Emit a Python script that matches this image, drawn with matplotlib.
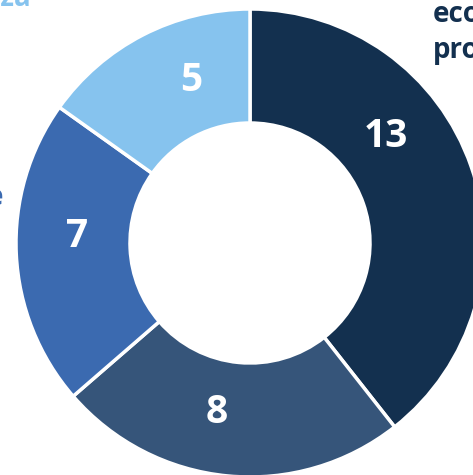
import numpy as np
import matplotlib
matplotlib.use("Agg")
import matplotlib.pyplot as plt

plt.rcParams['font.family'] = ['Open Sans', 'DejaVu Sans']

# data
values = [13, 8, 7, 5]
colors = ['#13304F', '#36557A', '#3B6AB0', '#86C3EE']
value_labels = [str(v) for v in values]
# where each number sits (degrees), moved off the middle as in the original
label_angles = [38, -101, 178, 110]

W, H = 473, 475
fig = plt.figure(figsize=(W / 100, H / 100), dpi=100)
ax = fig.add_axes([0, 0, 1, 1])

cx, cy = 250, H - 243
R, r_in = 234, 120

ax.pie(values, colors=colors, startangle=90, counterclock=False,
       center=(cx, cy), radius=R, frame=True,
       wedgeprops=dict(width=R - r_in, edgecolor='white', linewidth=2.5))
ax.set_xlim(0, W)
ax.set_ylim(0, H)
ax.set_aspect('equal')
ax.axis('off')

for lab, ang in zip(value_labels, label_angles):
    a = np.deg2rad(ang)
    ax.text(cx + 173 * np.cos(a), cy + 173 * np.sin(a), lab,
            ha='center', va='center', color='white',
            fontsize=28, fontweight='bold')

# category labels, mostly outside the visible area
ax.text(433, H - 22, 'economía', ha='left', va='baseline',
        color='#13304F', fontsize=20, fontweight='bold')
ax.text(433, H - 58, 'productiva', ha='left', va='baseline',
        color='#13304F', fontsize=20, fontweight='bold')
ax.text(31, H - 6, 'Pobreza', ha='right', va='baseline',
        color='#86C3EE', fontsize=20, fontweight='bold')
ax.text(3, H - 205, 'Medio ambiente', ha='right', va='baseline',
        color='#3B6AB0', fontsize=20, fontweight='bold')

fig.savefig('out.png', dpi=100)
